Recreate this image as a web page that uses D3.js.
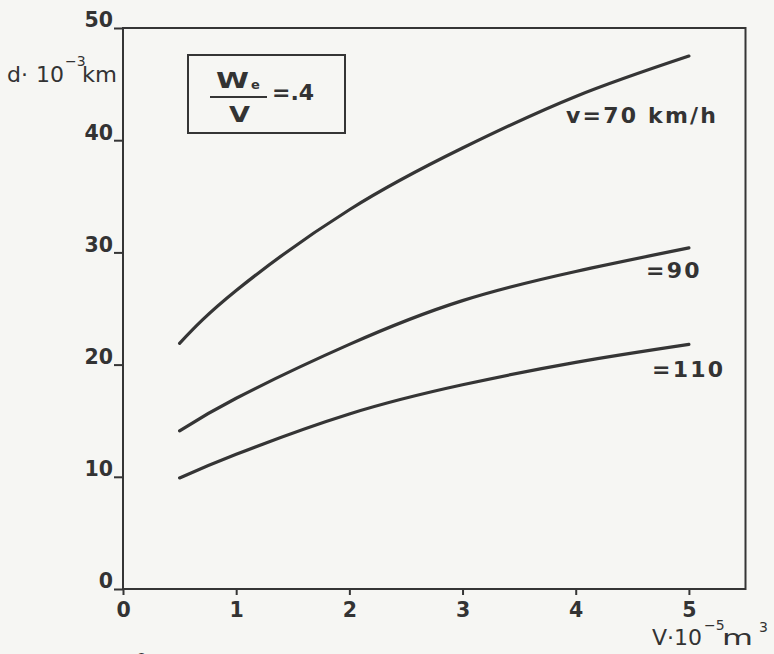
<!DOCTYPE html>
<html><head><meta charset="utf-8">
<script src="https://cdn.jsdelivr.net/npm/d3@7"></script>
<style>
html,body{margin:0;padding:0;background:#f6f6f3;}
svg{display:block;}
text{fill:#333;font-family:"DejaVu Sans",sans-serif;}
</style></head>
<body><svg id="c" width="774" height="654"></svg>
<script>
const xTicks = [0,1,2,3,4,5];
const yTicks = [0,10,20,30,40,50];
const volumes = [0.5,1,2,3,4,5];
const seriesNames = ["v=70 km/h","=90","=110"];
const d70  = [21.9,26.6,33.8,39.3,43.9,47.5];
const d90  = [14.1,17.0,21.8,25.7,28.3,30.4];
const d110 = [9.9,12.0,15.6,18.2,20.2,21.8];

const svg = d3.select("#c");
const ink = "#353535";
const x = d3.scaleLinear().domain([0,5.5]).range([123,745.5]);
const y = d3.scaleLinear().domain([0,50]).range([589,28]);

// frame
svg.append("rect").attr("x",x(0)).attr("y",y(50)).attr("width",x(5.5)-x(0)).attr("height",y(0)-y(50))
  .attr("fill","none").attr("stroke",ink).attr("stroke-width",2);

// x axis
const gx = svg.append("g").attr("transform",`translate(0,${y(0)})`)
  .call(d3.axisBottom(x).tickValues(xTicks).tickSize(6).tickPadding(7).tickFormat(d3.format("d")));
gx.select(".domain").remove();
gx.selectAll("line").attr("stroke",ink).attr("stroke-width",2);
gx.selectAll("text").attr("font-size",20.5).attr("font-weight","bold").attr("fill",ink).attr("font-family","DejaVu Sans");

// y axis
const gy = svg.append("g").attr("transform",`translate(${x(0)},0)`)
  .call(d3.axisLeft(y).tickValues(yTicks).tickSize(9).tickPadding(1).tickFormat(d3.format("d")));
gy.select(".domain").remove();
gy.selectAll("line").attr("stroke",ink).attr("stroke-width",2);
gy.selectAll("text").attr("font-size",20.5).attr("font-weight","bold").attr("fill",ink)
  .attr("font-family","DejaVu Sans").attr("dy","-0.05em");

// curves
const line = d3.line().x((d,i)=>x(volumes[i])).y(d=>y(d)).curve(d3.curveNatural);
[d70,d90,d110].forEach(s=>{
  svg.append("path").attr("d",line(s)).attr("fill","none").attr("stroke",ink)
    .attr("stroke-width",3.2).attr("stroke-linecap","round");
});

// curve labels
const lab = svg.append("g").attr("font-size",22).attr("font-weight","bold").attr("letter-spacing",2.2);
lab.append("text").attr("x",566).attr("y",123).text(seriesNames[0]);
lab.append("text").attr("x",646).attr("y",278).text(seriesNames[1]);
lab.append("text").attr("x",652).attr("y",377).text(seriesNames[2]);

// y-axis title
const yt = svg.append("g").attr("font-size",22);
yt.append("text").attr("x",7).attr("y",82).text("d·");
yt.append("text").attr("x",36).attr("y",82).text("10");
yt.append("text").attr("x",65).attr("y",66).attr("font-size",14).text("−3");
yt.append("text").attr("x",82).attr("y",82).attr("textLength",35).attr("lengthAdjust","spacingAndGlyphs").text("km");

// x-axis title
const xt = svg.append("g").attr("font-size",22);
xt.append("text").attr("x",652).attr("y",645).text("V·10");
xt.append("text").attr("x",704).attr("y",630).attr("font-size",14).text("−5");
xt.append("text").attr("x",722).attr("y",645).attr("textLength",31).attr("lengthAdjust","spacingAndGlyphs").text("m");
xt.append("text").attr("x",759).attr("y",632).attr("font-size",14).text("3");

// fragment at the bottom edge
svg.append("text").attr("x",122).attr("y",665).attr("font-size",16).text("−6");

// legend box
svg.append("rect").attr("x",188).attr("y",55).attr("width",157).attr("height",78)
  .attr("fill","none").attr("stroke",ink).attr("stroke-width",2);
svg.append("text").attr("x",216).attr("y",88).attr("font-size",21).attr("font-weight","bold")
  .attr("textLength",33).attr("lengthAdjust","spacingAndGlyphs").text("W");
svg.append("text").attr("x",251).attr("y",89).attr("font-size",13).attr("font-weight","bold").text("e");
svg.append("line").attr("x1",210).attr("x2",267).attr("y1",97).attr("y2",97).attr("stroke",ink).attr("stroke-width",2);
svg.append("text").attr("x",229).attr("y",122).attr("font-size",21).attr("font-weight","bold")
  .attr("textLength",21).attr("lengthAdjust","spacingAndGlyphs").text("V");
svg.append("text").attr("x",272).attr("y",100).attr("font-size",22).attr("font-weight","bold").text("=.4");
</script></body></html>
